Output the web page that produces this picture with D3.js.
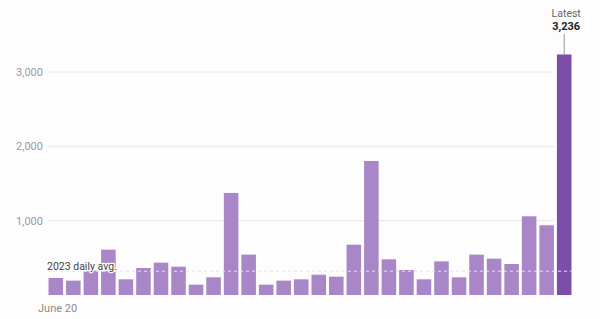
<!DOCTYPE html>
<html>
<head>
<meta charset="utf-8">
<script src="https://cdn.jsdelivr.net/npm/d3@7"></script>
<style>
  html, body { margin: 0; padding: 0; background: #fdfdfd; }
  svg { display: block; font-family: Roboto, "Liberation Sans", sans-serif; }
</style>
</head>
<body>
<div id="wrapper"></div>
<script>
// daily counts, June 20 onward
const days = d3.range(1, 31)
const counts = [229, 193, 327, 610, 211, 363, 435, 381, 139, 238,
  1373, 543, 139, 193, 211, 273, 247, 677, 1803, 480,
  336, 211, 453, 238, 543, 489, 417, 1059, 938, 3236]
const yTicks = [1000, 2000, 3000]
const dailyAvg = 320
const firstLabel = 'June 20'

const dimensions = {
  width: 600,
  height: 319,
  margin: { top: 0, right: 28, bottom: 24, left: 48 },
}

const wrapper = d3
  .select('#wrapper')
  .append('svg')
  .attr('width', dimensions.width)
  .attr('height', dimensions.height)

// y scale: 0 sits at 295, 3,000 at 72
const yScale = d3.scaleLinear().domain([0, 3000]).range([295, 72])

const xScale = d3
  .scaleBand()
  .domain(days)
  .range([dimensions.margin.left, dimensions.width - dimensions.margin.right])
  .paddingInner(0.17)
  .paddingOuter(0.03)

const last = days[days.length - 1]

// gridlines + tick labels
const grid = wrapper.append('g').attr('class', 'grid')
grid
  .selectAll('line')
  .data(yTicks)
  .enter()
  .append('line')
  .attr('x1', dimensions.margin.left)
  .attr('x2', xScale(last) - 3)
  .attr('y1', (d) => yScale(d))
  .attr('y2', (d) => yScale(d))
  .attr('stroke', '#e6e6e6')
  .attr('stroke-width', 1)

grid
  .selectAll('text')
  .data(yTicks)
  .enter()
  .append('text')
  .attr('x', 43)
  .attr('y', (d) => yScale(d) + 4)
  .attr('text-anchor', 'end')
  .attr('font-size', 11)
  .attr('fill', '#9a9a9a')
  .text((d) => d3.format(',')(d))

// bars
wrapper
  .append('g')
  .attr('class', 'bars')
  .selectAll('rect')
  .data(counts)
  .enter()
  .append('rect')
  .attr('x', (d, i) => xScale(days[i]))
  .attr('y', (d) => yScale(d))
  .attr('width', xScale.bandwidth())
  .attr('height', (d) => yScale(0) - yScale(d))
  .attr('fill', (d, i) => (days[i] === last ? '#7d4ea9' : '#a886c8'))

// 2023 daily average line
const avgY = yScale(dailyAvg)
wrapper
  .append('line')
  .attr('x1', dimensions.margin.left)
  .attr('x2', xScale(last) + xScale.bandwidth())
  .attr('y1', avgY)
  .attr('y2', avgY)
  .attr('stroke', '#e8e0ef')
  .attr('stroke-width', 1)
  .attr('stroke-dasharray', '3,3')

wrapper
  .append('text')
  .attr('x', 47)
  .attr('y', avgY - 1)
  .attr('font-size', 10.5)
  .attr('fill', '#444')
  .attr('stroke', '#fff')
  .attr('stroke-width', 2.5)
  .attr('paint-order', 'stroke')
  .attr('stroke-linejoin', 'round')
  .text('2023 daily avg.')

// first date label
wrapper
  .append('text')
  .attr('x', 38)
  .attr('y', 312)
  .attr('font-size', 11)
  .attr('fill', '#8c8c8c')
  .text(firstLabel)

// latest annotation
const lastX = xScale(last) + xScale.bandwidth() / 2
const lastVal = counts[counts.length - 1]
wrapper
  .append('line')
  .attr('x1', lastX)
  .attr('x2', lastX)
  .attr('y1', 34)
  .attr('y2', yScale(lastVal))
  .attr('stroke', '#999')
  .attr('stroke-width', 1)

wrapper
  .append('text')
  .attr('x', lastX + 2)
  .attr('y', 17)
  .attr('text-anchor', 'middle')
  .attr('font-size', 10.5)
  .attr('fill', '#666')
  .text('Latest')

wrapper
  .append('text')
  .attr('x', lastX + 2)
  .attr('y', 30)
  .attr('text-anchor', 'middle')
  .attr('font-size', 11)
  .attr('font-weight', 'bold')
  .attr('fill', '#222')
  .text(d3.format(',')(lastVal))
</script>
</body>
</html>
